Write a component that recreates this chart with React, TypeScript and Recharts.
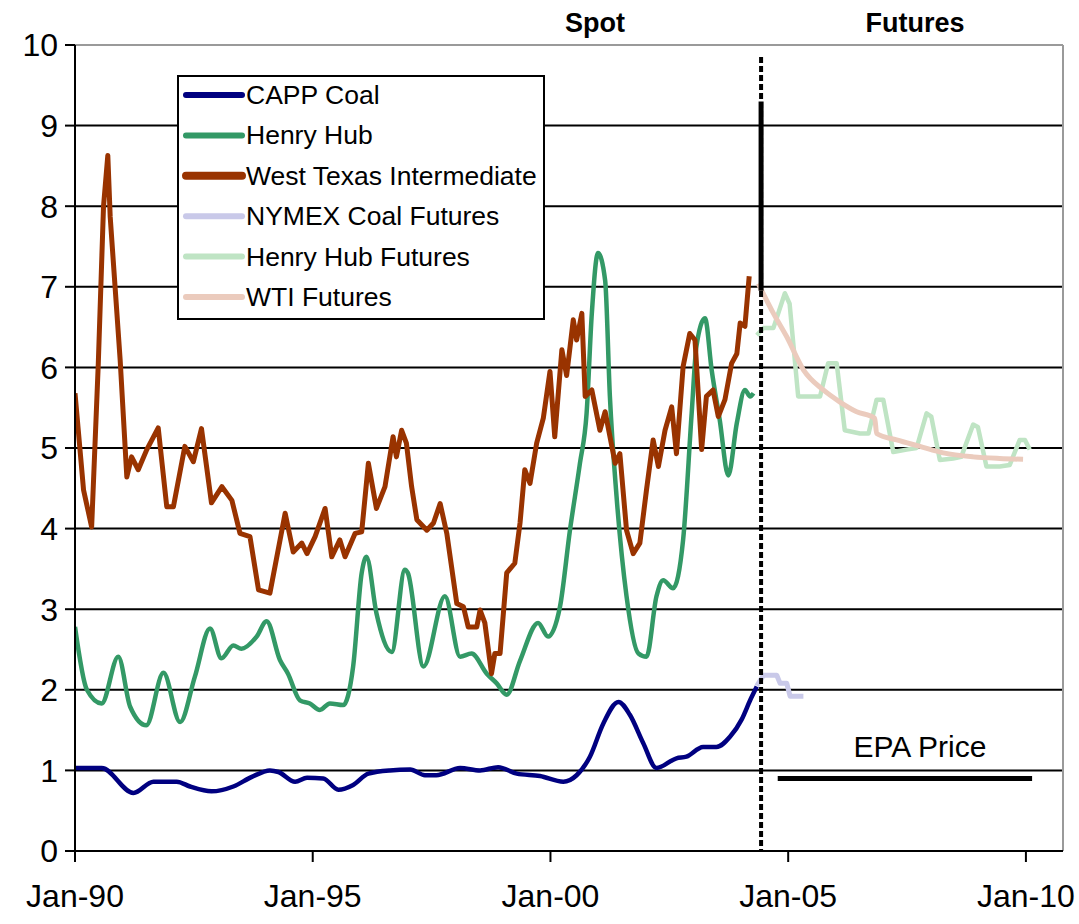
import { CartesianGrid, Line, LineChart, ReferenceLine, XAxis, YAxis } from 'recharts'

const FONT = '"Liberation Sans", Arial, Helvetica, sans-serif'

// x is decimal year, v is the price
const xTicks = [1990, 1995, 2000, 2005, 2010]
const xLabels = ['Jan-90', 'Jan-95', 'Jan-00', 'Jan-05', 'Jan-10']
const yTicks = [0, 1, 2, 3, 4, 5, 6, 7, 8, 9, 10]
const xMax = 2010.78
const spotEnd = 2004.43

const cappCoal: [number, number][] = [
  [1990.0, 1.03], [1990.56, 1.03], [1991.23, 0.72], [1991.65, 0.86], [1992.14, 0.86],
  [1992.42, 0.8], [1992.87, 0.74], [1993.33, 0.8], [1993.72, 0.92], [1994.1, 1.0],
  [1994.28, 0.98], [1994.63, 0.86], [1994.88, 0.91], [1995.22, 0.9], [1995.54, 0.76],
  [1995.85, 0.82], [1996.17, 0.96], [1996.62, 1.0], [1997.05, 1.01], [1997.36, 0.94],
  [1997.6, 0.94], [1998.1, 1.03], [1998.52, 1.0], [1998.9, 1.04], [1999.29, 0.96],
  [1999.78, 0.93], [2000.27, 0.86], [2000.55, 0.94], [2000.83, 1.17], [2001.11, 1.58],
  [2001.43, 1.85], [2001.67, 1.69], [2001.95, 1.34], [2002.23, 1.03], [2002.65, 1.15],
  [2002.86, 1.17], [2003.21, 1.29], [2003.49, 1.29], [2003.78, 1.42], [2004.02, 1.63],
  [2004.2, 1.87], [2004.34, 2.04],
]

const henryHub: [number, number][] = [
  [1990.0, 2.78], [1990.25, 2.0], [1990.56, 1.83], [1990.91, 2.41], [1991.16, 1.79],
  [1991.5, 1.56], [1991.86, 2.21], [1992.21, 1.6], [1992.52, 2.16], [1992.84, 2.76],
  [1993.08, 2.39], [1993.33, 2.55], [1993.5, 2.51], [1993.82, 2.66], [1994.03, 2.85],
  [1994.31, 2.37], [1994.48, 2.2], [1994.73, 1.87], [1994.94, 1.83], [1995.15, 1.75],
  [1995.36, 1.83], [1995.64, 1.81], [1995.85, 2.29], [1996.03, 3.45], [1996.13, 3.65],
  [1996.34, 2.95], [1996.66, 2.47], [1996.94, 3.49], [1997.0, 3.45], [1997.33, 2.29],
  [1997.78, 3.16], [1998.1, 2.41], [1998.34, 2.45], [1998.66, 2.2], [1998.87, 2.08],
  [1999.08, 1.94], [1999.36, 2.36], [1999.74, 2.83], [1999.95, 2.66], [2000.2, 3.03],
  [2000.41, 3.98], [2000.62, 4.81], [2000.76, 5.43], [2000.87, 6.67], [2001.0, 7.42],
  [2001.15, 7.08], [2001.25, 5.64], [2001.39, 4.4], [2001.6, 3.16], [2001.85, 2.45],
  [2002.02, 2.41], [2002.23, 3.16], [2002.37, 3.36], [2002.58, 3.26], [2002.79, 3.86],
  [2002.97, 5.43], [2003.07, 6.26], [2003.25, 6.61], [2003.39, 5.97], [2003.56, 5.35],
  [2003.74, 4.66], [2003.92, 5.31], [2004.09, 5.72], [2004.2, 5.64], [2004.27, 5.68],
]

const wti: [number, number][] = [
  [1990.0, 5.68], [1990.18, 4.48], [1990.35, 4.02], [1990.49, 6.05], [1990.6, 8.0],
  [1990.69, 8.63], [1990.74, 7.87], [1990.95, 6.09], [1991.09, 4.64], [1991.19, 4.89],
  [1991.33, 4.73], [1991.51, 4.98], [1991.75, 5.25], [1991.93, 4.27], [1992.07, 4.27],
  [1992.31, 5.02], [1992.49, 4.83], [1992.66, 5.24], [1992.87, 4.32], [1993.09, 4.52],
  [1993.3, 4.35], [1993.47, 3.94], [1993.68, 3.9], [1993.86, 3.24], [1994.1, 3.2],
  [1994.42, 4.19], [1994.59, 3.71], [1994.77, 3.82], [1994.88, 3.69], [1995.05, 3.9],
  [1995.26, 4.25], [1995.4, 3.65], [1995.57, 3.86], [1995.68, 3.65], [1995.89, 3.94],
  [1996.03, 3.96], [1996.17, 4.81], [1996.34, 4.25], [1996.52, 4.52], [1996.69, 5.14],
  [1996.76, 4.89], [1996.87, 5.22], [1996.97, 5.06], [1997.08, 4.52], [1997.19, 4.11],
  [1997.4, 3.98], [1997.54, 4.07], [1997.68, 4.31], [1997.82, 3.94], [1998.03, 3.07],
  [1998.17, 3.03], [1998.27, 2.78], [1998.45, 2.78], [1998.52, 2.99], [1998.62, 2.83],
  [1998.76, 2.2], [1998.83, 2.45], [1998.94, 2.45], [1999.08, 3.45], [1999.25, 3.57],
  [1999.36, 4.07], [1999.46, 4.73], [1999.57, 4.56], [1999.71, 5.06], [1999.85, 5.37],
  [1999.99, 5.95], [2000.09, 5.14], [2000.24, 6.22], [2000.34, 5.9], [2000.48, 6.59],
  [2000.55, 6.34], [2000.66, 6.67], [2000.73, 5.64], [2000.87, 5.72], [2001.04, 5.22],
  [2001.15, 5.45], [2001.36, 4.81], [2001.46, 4.93], [2001.6, 3.98], [2001.74, 3.69],
  [2001.88, 3.82], [2002.02, 4.48], [2002.16, 5.1], [2002.27, 4.77], [2002.41, 5.22],
  [2002.55, 5.51], [2002.65, 4.93], [2002.79, 6.01], [2002.93, 6.42], [2003.04, 6.34],
  [2003.18, 4.98], [2003.28, 5.64], [2003.42, 5.72], [2003.53, 5.39], [2003.67, 5.6],
  [2003.81, 6.05], [2003.92, 6.17], [2003.99, 6.55], [2004.09, 6.51], [2004.18, 7.13],
]

const nymexCoalFutures: [number, number][] = [
  [2004.34, 2.05], [2004.48, 2.18], [2004.76, 2.18], [2004.83, 2.08], [2004.97, 2.08],
  [2005.04, 1.92], [2005.32, 1.92],
]

const henryHubFutures: [number, number][] = [
  [2004.34, 6.4], [2004.48, 6.49], [2004.69, 6.49], [2004.93, 6.92], [2005.03, 6.79],
  [2005.21, 5.64], [2005.67, 5.64], [2005.84, 6.05], [2006.02, 6.05], [2006.19, 5.22],
  [2006.51, 5.18], [2006.69, 5.18], [2006.86, 5.6], [2007.0, 5.6], [2007.21, 4.95],
  [2007.49, 4.98], [2007.7, 5.0], [2007.91, 5.43], [2008.01, 5.39], [2008.19, 4.85],
  [2008.47, 4.87], [2008.64, 4.89], [2008.89, 5.29], [2008.99, 5.26], [2009.17, 4.77],
  [2009.45, 4.77], [2009.66, 4.79], [2009.87, 5.1], [2009.98, 5.1], [2010.08, 4.98],
]

const wtiFutures: [number, number][] = [
  [2004.37, 7.04], [2004.69, 6.67], [2004.97, 6.38], [2005.32, 5.97], [2005.74, 5.72],
  [2006.09, 5.57], [2006.44, 5.45], [2006.82, 5.37], [2006.86, 5.18], [2007.28, 5.1],
  [2007.77, 5.02], [2008.26, 4.94], [2008.89, 4.89], [2009.45, 4.87], [2009.94, 4.86],
]

const epaPrice: [number, number][] = [
  [2004.78, 0.9], [2010.13, 0.9],
]

const toRows = (pts: [number, number][]) => pts.map(([t, v]) => ({ t, v }))

const series = [
  { name: 'CAPP Coal', data: cappCoal, color: '#000080', width: 4.5, legendWidth: 6, type: 'monotone' },
  { name: 'Henry Hub', data: henryHub, color: '#339966', width: 4.5, legendWidth: 6, type: 'monotone' },
  { name: 'West Texas Intermediate', data: wti, color: '#993300', width: 5, legendWidth: 8, type: 'linear' },
  { name: 'NYMEX Coal Futures', data: nymexCoalFutures, color: '#c9c9e9', width: 5, legendWidth: 6, type: 'linear' },
  { name: 'Henry Hub Futures', data: henryHubFutures, color: '#bfe4c4', width: 4.5, legendWidth: 6, type: 'linear' },
  { name: 'WTI Futures', data: wtiFutures, color: '#ebcbbd', width: 5, legendWidth: 6, type: 'monotone' },
] as const

function LegendBox() {
  return (
    <div
      style={{
        position: 'absolute',
        left: 177,
        top: 75,
        width: 368,
        height: 245,
        border: '2px solid #000',
        background: '#fff',
        boxSizing: 'border-box',
      }}
    >
      <svg width={364} height={241} style={{ display: 'block' }}>
        {series.map((s, i) => {
          const cy = 18 + i * 40.4
          return (
            <g key={s.name}>
              <line x1={7} x2={63} y1={cy} y2={cy} stroke={s.color} strokeWidth={s.legendWidth} strokeLinecap="round" />
              <text x={67} y={cy} dominantBaseline="central" fontFamily={FONT} fontSize={26.5} fill="#000">
                {s.name}
              </text>
            </g>
          )
        })}
      </svg>
    </div>
  )
}

export default function App() {
  return (
    <div style={{ position: 'absolute', left: 0, top: 0, width: 1079, height: 924, background: '#fff' }}>
      <LineChart width={1079} height={924} margin={{ top: 45, right: 16, bottom: 0, left: 0 }}>
        <CartesianGrid vertical={false} stroke="#000" strokeWidth={2} />
        <XAxis
          dataKey="t"
          type="number"
          domain={[1990, xMax]}
          ticks={xTicks}
          interval={0}
          tickFormatter={(v: number) => xLabels[xTicks.indexOf(v)] ?? ''}
          tick={{ fill: '#000', fontSize: 32, fontFamily: FONT }}
          tickSize={11}
          tickMargin={22}
          axisLine={{ stroke: '#000', strokeWidth: 2 }}
          tickLine={{ stroke: '#000', strokeWidth: 2 }}
          height={73}
          allowDataOverflow
        />
        <YAxis
          type="number"
          domain={[0, 10]}
          ticks={yTicks}
          interval={0}
          tick={{ fill: '#000', fontSize: 32, fontFamily: FONT }}
          tickSize={10}
          tickMargin={7}
          axisLine={{ stroke: '#000', strokeWidth: 2 }}
          tickLine={{ stroke: '#000', strokeWidth: 2 }}
          width={75}
        />
        <ReferenceLine y={10} stroke="#9a9a9a" strokeWidth={2} />
        <ReferenceLine x={xMax} stroke="#9a9a9a" strokeWidth={2} />
        {series.map((s) => (
          <Line
            key={s.name}
            data={toRows(s.data)}
            dataKey="v"
            name={s.name}
            type={s.type}
            stroke={s.color}
            strokeWidth={s.width}
            strokeLinejoin="round"
            dot={false}
            activeDot={false}
            isAnimationActive={false}
          />
        ))}
        <Line
          data={toRows(epaPrice)}
          dataKey="v"
          name="EPA Price"
          type="linear"
          stroke="#000"
          strokeWidth={5}
          dot={false}
          activeDot={false}
          isAnimationActive={false}
        />
        <ReferenceLine
          segment={[{ x: spotEnd, y: 9.85 }, { x: spotEnd, y: 0 }]}
          stroke="#000"
          strokeWidth={4}
          strokeDasharray="6 3"
        />
        <ReferenceLine
          segment={[{ x: spotEnd, y: 9.3 }, { x: spotEnd, y: 6.95 }]}
          stroke="#000"
          strokeWidth={5}
        />
      </LineChart>
      <LegendBox />
      <svg
        width={1079}
        height={924}
        style={{ position: 'absolute', left: 0, top: 0, pointerEvents: 'none' }}
        fontFamily={FONT}
      >
        <text x={595} y={32} textAnchor="middle" fontSize={27} fontWeight="bold">Spot</text>
        <text x={915} y={32} textAnchor="middle" fontSize={27} fontWeight="bold">Futures</text>
        <text x={920} y={757} textAnchor="middle" fontSize={30}>EPA Price</text>
      </svg>
    </div>
  )
}
